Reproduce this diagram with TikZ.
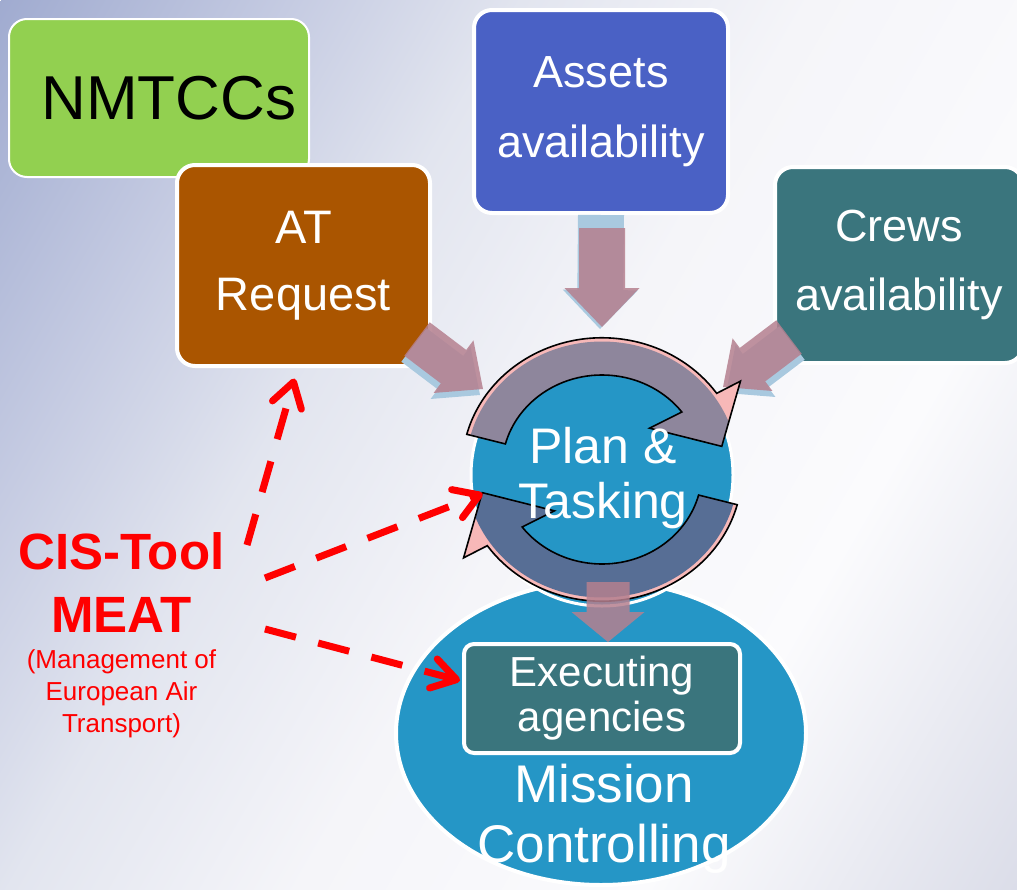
\documentclass[tikz,border=0pt]{standalone}
\usepackage{fontspec}
\setmainfont{Liberation Sans}
\usetikzlibrary{positioning, calc, shapes.geometric,
arrows.meta}

\definecolor{nmtccgreen}{HTML}{92D050}
\definecolor{atbrown}{HTML}{AA5500}
\definecolor{assetblue}{HTML}{4A61C5}
\definecolor{crewteal}{HTML}{3A757D}
\definecolor{planblue}{HTML}{2596C6}
\definecolor{fatmauve}{HTML}{B5808F}
\definecolor{fatshade}{HTML}{A9C9DF}
\definecolor{cycpink}{HTML}{F7B8B8}
\definecolor{cyctop}{HTML}{8E869C}
\definecolor{cycbot}{HTML}{576E95}
\definecolor{cisred}{HTML}{FF0000}
\definecolor{bga}{HTML}{A0ABD0}
\definecolor{bgb}{HTML}{C5CBE2}
\definecolor{bgc}{HTML}{E2E5EF}
\definecolor{bgd}{HTML}{F5F5F9}
\definecolor{bge}{HTML}{FBFBFD}
\definecolor{bgf}{HTML}{DADCE8}

\pgfdeclarehorizontalshading{bgdiag}{1600bp}{color(0bp)=(bga);
  color(250bp)=(bgb); color(450bp)=(bgc); color(700bp)=(bgd);
  color(1000bp)=(bge); color(1330bp)=(bgf); color(1400bp)=(bgf)}

\tikzset{
  box/.style={draw=white, line width=4pt, rounded corners=18pt,
    text=white, align=center, inner sep=0pt},
  bigtxt/.style={text=white, align=center, inner sep=0pt},
  fatarr/.style={fill=fatmauve, fill opacity=0.85},
  fatshadow/.style={fill=fatshade},
  cycline/.style={draw=black, line width=1.6pt, line join=miter},
  cisarrow/.style={draw=cisred, line width=7pt,
    dash pattern=on 32pt off 23pt,
    -{Straight Barb[length=24pt, width=30pt, round]}},
}

% fat arrow: tail, tip, half shaft, half head, head length, style
\newcommand\fatarrow[6]{%
  \coordinate (fa-n) at ($(#2)!#5!(#1)$);
  \fill[#6] ($(#1)!#3!90:(#2)$) -- ($(fa-n)!#3!90:(#2)$)
    -- ($(fa-n)!#4!90:(#2)$) -- (#2) -- ($(fa-n)!#4!-90:(#2)$)
    -- ($(fa-n)!#3!-90:(#2)$) -- ($(#1)!#3!-90:(#2)$) -- cycle;
}
\newcommand\cyclepath{(165:140) arc[start angle=165, end angle=35, radius=140]
  -- (34:167) -- (11:122) -- (42:64) -- (37:100)
  arc[start angle=37, end angle=165, radius=100] -- cycle}

\begin{document}
\begin{tikzpicture}[x=1pt, y=-1pt]
\useasboundingbox (0,0) rectangle (1017,889);
\begin{scope}
  \clip (0,0) rectangle (1017,889);
  \node[inner sep=0pt, anchor=west, rotate=-30] (bg) at (0,0)
    {\pgfuseshading{bgdiag}};
\end{scope}

% input boxes
\node[box, fill=nmtccgreen, line width=2pt, text=black,
  minimum width=300, minimum height=158,
  font=\fontsize{62}{70}\selectfont] (nmtcc) at (159,98)
  {\hspace*{20pt}NMTCCs};
\node[box, fill=atbrown, minimum width=253, minimum height=201,
  font=\fontsize{47}{67}\selectfont] (atreq) at (303.5,265.5)
  {AT\\Request};
\node[box, fill=assetblue, minimum width=254, minimum height=203,
  font=\fontsize{45}{70}\selectfont] (assets) at (601,111.5)
  {Assets\\availability};
\node[box, fill=crewteal, minimum width=248, minimum height=196,
  font=\fontsize{45}{69}\selectfont] (crews) at (899,265)
  {Crews\\availability};

% mission controlling
\node[ellipse, fill=planblue, draw=white, line width=4pt,
  minimum width=410, minimum height=304] (mission) at (601,733) {};
\node[box, fill=crewteal, rounded corners=10pt,
  minimum width=276, minimum height=109,
  font=\fontsize{42}{45}\selectfont] (exec) at (602,698.5)
  {Executing\\agencies};
\node[bigtxt, font=\fontsize{53}{60}\selectfont] (missiontxt)
  at (604,818.5) {Mission\\Controlling};

% plan & tasking
\node[circle, fill=planblue, draw=white, line width=3pt,
  minimum size=262] (plan) at (602,475) {};

% fat arrows into the cycle
\coordinate (asout) at (602,228);
\coordinate (asin) at (602,327);
\coordinate (asshout) at (601,215);
\coordinate (asshin) at (600,329);
\fatarrow{asshout}{asshin}{23pt}{37.5pt}{39pt}{fatshadow}
\fatarrow{asout}{asin}{23pt}{37.5pt}{39pt}{fatarr}
\coordinate (atout) at (417,339);
\coordinate (atin) at (483,389);
\coordinate (atshout) at (414,345);
\coordinate (atshin) at (480,395);
\fatarrow{atshout}{atshin}{21pt}{33pt}{37pt}{fatshadow}
\fatarrow{atout}{atin}{21pt}{33pt}{37pt}{fatarr}
\coordinate (crout) at (789,337);
\coordinate (crin) at (723,387);
\coordinate (crshout) at (792,343);
\coordinate (crshin) at (726,393);
\fatarrow{crshout}{crshin}{21pt}{33pt}{37pt}{fatshadow}
\fatarrow{crout}{crin}{21pt}{33pt}{37pt}{fatarr}

% cycle arrows
\foreach \rot/\cyccol/\cy in {0/cyctop/468, 180/cycbot/471} {
  \begin{scope}[shift={(602,\cy)}, yscale=-0.93, rotate=\rot]
    \fill[cycpink] \cyclepath;
    \begin{scope}
      \clip (0,0) circle[radius=136];
      \fill[\cyccol] \cyclepath;
    \end{scope}
    \draw[cycline] \cyclepath;
  \end{scope}
}
\node[bigtxt, font=\fontsize{50}{55}\selectfont] (plantxt)
  at (603,478) {Plan \&\\Tasking};

% plan -> mission
\coordinate (plout) at (608,582);
\coordinate (plin) at (608,642);
\fatarrow{plout}{plin}{21.5pt}{36.5pt}{30pt}{fatarr}

% CIS tool
\node[text=cisred, align=center, inner sep=0pt,
  font=\bfseries\fontsize{51}{63}\selectfont] (cistool)
  at (121.5,582.5) {CIS-Tool\\MEAT};
\node[text=cisred, align=center, inner sep=0pt,
  font=\fontsize{26}{32}\selectfont, below=17pt of cistool]
  (meatnote) {(Management of\\European Air\\Transport)};

\coordinate (cis1) at (247,545);
\coordinate (cis2) at (265,578);
\coordinate (cis3) at (265,629);
\draw[cisarrow, shorten >=11pt] (cis1) -- ($(atreq.south)+(-6,0)$);
\draw[cisarrow, shorten >=-12pt] (cis2) -- (plan.190);
\draw[cisarrow] (cis3) -- ($(exec.west)+(-2,-18)$);
\end{tikzpicture}
\end{document}
